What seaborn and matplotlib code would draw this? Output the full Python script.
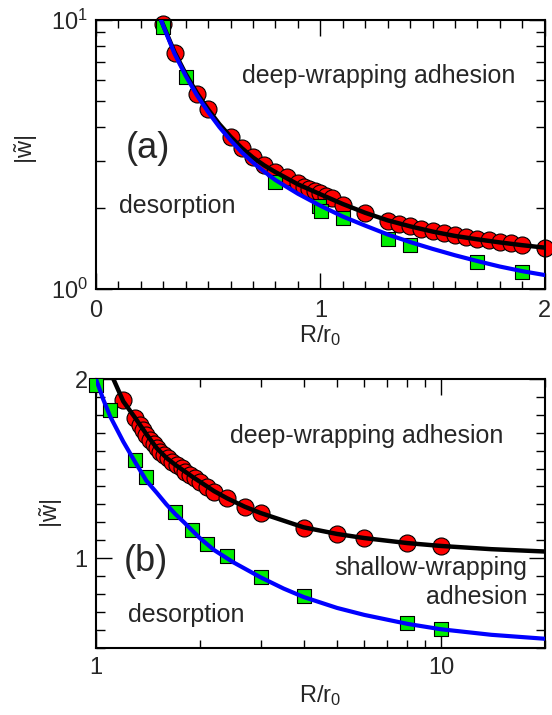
import matplotlib
matplotlib.use("Agg")
import matplotlib.pyplot as plt
from matplotlib.ticker import FixedLocator, MultipleLocator, NullFormatter, FixedFormatter
import seaborn as sns

# ---------------- panel (a): linear R/r0, log |w~| ----------------
a_circle_x = [0.30, 0.35, 0.45, 0.50, 0.60, 0.65, 0.70, 0.75, 0.80, 0.85, 0.90,
              0.925, 0.95, 0.975, 1.00, 1.025, 1.05, 1.10, 1.20, 1.30, 1.35, 1.40,
              1.45, 1.50, 1.55, 1.60, 1.65, 1.70, 1.75, 1.80, 1.85, 1.90, 2.00]
a_circle_y = [9.70, 7.55, 5.30, 4.65, 3.68, 3.34, 3.10, 2.89, 2.73, 2.61, 2.47,
              2.40, 2.35, 2.31, 2.27, 2.22, 2.18, 2.06, 1.91, 1.79, 1.745, 1.71,
              1.67, 1.64, 1.61, 1.585, 1.56, 1.54, 1.52, 1.50, 1.48, 1.46, 1.42]

a_square_x = [0.30, 0.40, 0.80, 0.995, 1.005, 1.10, 1.30, 1.40, 1.70, 1.90]
a_square_y = [9.45, 6.15, 2.50, 2.03, 1.95, 1.83, 1.54, 1.457, 1.263, 1.16]

a_black_x = [0.29, 0.30, 0.35, 0.40, 0.45, 0.50, 0.55, 0.60, 0.65, 0.70, 0.75, 0.80,
             0.90, 1.00, 1.10, 1.20, 1.30, 1.40, 1.50, 1.60, 1.70, 1.80, 1.90, 2.00]
a_black_y = [10.0, 9.55, 7.60, 6.30, 5.35, 4.65, 4.10, 3.68, 3.34, 3.08, 2.88, 2.72,
             2.45, 2.25, 2.07, 1.92, 1.80, 1.71, 1.635, 1.575, 1.53, 1.49, 1.455, 1.425]

a_blue_x = [0.29, 0.30, 0.35, 0.40, 0.45, 0.50, 0.55, 0.60, 0.65, 0.70, 0.75, 0.80,
            0.90, 1.00, 1.10, 1.20, 1.30, 1.40, 1.50, 1.60, 1.70, 1.80, 1.90, 2.00]
a_blue_y = [10.0, 9.50, 7.50, 6.20, 5.25, 4.55, 4.00, 3.57, 3.22, 2.95, 2.73, 2.54,
            2.26, 2.04, 1.86, 1.72, 1.595, 1.495, 1.41, 1.335, 1.27, 1.212, 1.165, 1.127]

# ---------------- panel (b): log R/r0, linear |w~| ----------------
b_circle_x = [1.20, 1.30, 1.34, 1.37, 1.40, 1.435, 1.47, 1.50, 1.535, 1.57, 1.62,
              1.66, 1.715, 1.775, 1.815, 1.875, 1.94, 2.00, 2.10, 2.20, 2.40, 2.70,
              3.00, 4.00, 5.00, 6.00, 8.00, 10.0]
b_circle_y = [1.883, 1.781, 1.743, 1.716, 1.688, 1.660, 1.637, 1.614, 1.595, 1.576,
              1.558, 1.539, 1.520, 1.502, 1.483, 1.465, 1.446, 1.427, 1.399, 1.371,
              1.333, 1.286, 1.252, 1.170, 1.137, 1.114, 1.084, 1.068]

b_square_x = [1.0, 1.1, 1.3, 1.4, 1.7, 1.9, 2.1, 2.4, 3.0, 4.0, 8.0, 10.0]
b_square_y = [1.967, 1.827, 1.548, 1.455, 1.258, 1.158, 1.078, 1.010, 0.897, 0.788,
              0.640, 0.604]

b_black_x = [1.123, 1.20, 1.30, 1.40, 1.50, 1.60, 1.70, 1.80, 1.90, 2.00, 2.20, 2.40,
             2.70, 3.00, 4.00, 5.00, 6.00, 8.00, 10.0, 14.0, 20.0]
b_black_y = [2.000, 1.875, 1.782, 1.692, 1.614, 1.560, 1.520, 1.487, 1.455, 1.427,
             1.374, 1.334, 1.287, 1.252, 1.172, 1.135, 1.112, 1.084, 1.068, 1.050, 1.037]

b_blue_x = [1.00, 1.05, 1.10, 1.20, 1.30, 1.40, 1.50, 1.60, 1.70, 1.80, 2.00, 2.20,
            2.50, 3.00, 3.50, 4.00, 5.00, 6.00, 8.00, 10.0, 14.0, 20.0]
b_blue_y = [2.000, 1.885, 1.790, 1.650, 1.535, 1.432, 1.365, 1.300, 1.245, 1.200,
            1.112, 1.045, 0.977, 0.893, 0.830, 0.783, 0.722, 0.683, 0.633, 0.603,
            0.572, 0.550]

TEXT = "#262626"
RED = "#ff0000"
GREEN = "#00ee00"
BLUE = "#0000ff"

sns.set_style("ticks")
plt.rcParams["font.family"] = ["Liberation Sans", "DejaVu Sans"]
plt.rcParams["mathtext.fontset"] = "custom"
plt.rcParams["mathtext.rm"] = "Liberation Sans"
plt.rcParams["mathtext.it"] = "Liberation Sans"
plt.rcParams["mathtext.default"] = "regular"
plt.rcParams["text.color"] = TEXT
plt.rcParams["axes.labelcolor"] = TEXT
plt.rcParams["xtick.color"] = "black"
plt.rcParams["ytick.color"] = "black"
plt.rcParams["xtick.labelcolor"] = TEXT
plt.rcParams["ytick.labelcolor"] = TEXT

fig = plt.figure(figsize=(5.52, 7.15), dpi=100)
ax1 = fig.add_axes([0.17391, 0.59580, 0.81286, 0.37622])
ax2 = fig.add_axes([0.17391, 0.09413, 0.81286, 0.37580])


def draw_panel(ax, cx, cy, sx, sy, kx, ky, bx, by):
    sns.scatterplot(x=cx, y=cy, ax=ax, marker="o", s=150, color=RED,
                    edgecolor="black", linewidth=0.8, clip_on=False, zorder=2)
    sns.scatterplot(x=sx, y=sy, ax=ax, marker="s", s=112, color=GREEN,
                    edgecolor="black", linewidth=0.8, clip_on=False, zorder=3)
    sns.lineplot(x=kx, y=ky, ax=ax, sort=False, estimator=None, color="black",
                 linewidth=3.2, zorder=4)
    sns.lineplot(x=bx, y=by, ax=ax, sort=False, estimator=None, color=BLUE,
                 linewidth=3.0, zorder=5)


def style_axes(ax):
    for sp in ax.spines.values():
        sp.set_linewidth(1.5)
        sp.set_color("black")
        sp.set_visible(True)
    ax.tick_params(which="both", direction="in", top=True, right=True,
                   width=1.0, labelsize=17)
    ax.tick_params(which="major", length=11.5)
    ax.tick_params(axis="x", which="minor", length=5.5)
    ax.tick_params(axis="y", which="minor", length=6.5)


# panel (a)
draw_panel(ax1, a_circle_x, a_circle_y, a_square_x, a_square_y,
           a_black_x, a_black_y, a_blue_x, a_blue_y)
ax1.set_yscale("log")
ax1.set_xlim(0, 2)
ax1.set_ylim(1, 10)
ax1.xaxis.set_major_locator(FixedLocator([0, 1, 2]))
ax1.xaxis.set_minor_locator(MultipleLocator(0.1))
ax1.yaxis.set_minor_formatter(NullFormatter())
style_axes(ax1)
ax1.tick_params(axis="x", pad=8)
ax1.tick_params(axis="y", pad=6)
ax1.set_xlabel(r"R/r$_0$", fontsize=17)
ax1.set_ylabel(r"$|\tilde{w}|$", fontsize=17)
ax1.xaxis.set_label_coords(0.5, -0.125)
ax1.yaxis.set_label_coords(-0.125, 0.52)
ax1.text(0.63, 0.765, "deep-wrapping adhesion", transform=ax1.transAxes,
         ha="center", va="baseline", fontsize=18)
ax1.text(0.1166, 0.524, "(a)", transform=ax1.transAxes,
         ha="center", va="center", fontsize=26)
ax1.text(0.181, 0.2825, "desorption", transform=ax1.transAxes,
         ha="center", va="baseline", fontsize=18)

# panel (b)
draw_panel(ax2, b_circle_x, b_circle_y, b_square_x, b_square_y,
           b_black_x, b_black_y, b_blue_x, b_blue_y)
ax2.set_xscale("log")
ax2.set_xlim(1, 20)
ax2.set_ylim(0.5, 2)
ax2.xaxis.set_major_locator(FixedLocator([1, 10]))
ax2.xaxis.set_major_formatter(FixedFormatter(["1", "10"]))
ax2.xaxis.set_minor_locator(FixedLocator([2, 3, 4, 5, 6, 7, 8, 9, 20]))
ax2.xaxis.set_minor_formatter(NullFormatter())
ax2.yaxis.set_major_locator(FixedLocator([1, 2]))
ax2.yaxis.set_major_formatter(FixedFormatter(["1", "2"]))
ax2.yaxis.set_minor_locator(MultipleLocator(0.1))
style_axes(ax2)
ax2.tick_params(axis="x", pad=6.5)
ax2.tick_params(axis="y", pad=6)
ax2.set_xlabel(r"R/r$_0$", fontsize=17)
ax2.set_ylabel(r"$|\tilde{w}|$", fontsize=17)
ax2.xaxis.set_label_coords(0.5, -0.13)
ax2.yaxis.set_label_coords(-0.07, 0.5)
ax2.text(0.604, 0.761, "deep-wrapping adhesion", transform=ax2.transAxes,
         ha="center", va="baseline", fontsize=18)
ax2.text(0.111, 0.32, "(b)", transform=ax2.transAxes,
         ha="center", va="center", fontsize=26)
ax2.text(0.201, 0.0968, "desorption", transform=ax2.transAxes,
         ha="center", va="baseline", fontsize=18)
ax2.text(0.962, 0.2706, "shallow-wrapping", transform=ax2.transAxes,
         ha="right", va="baseline", fontsize=18)
ax2.text(0.962, 0.1626, "adhesion", transform=ax2.transAxes,
         ha="right", va="baseline", fontsize=18)

fig.savefig("out.png", dpi=100)
